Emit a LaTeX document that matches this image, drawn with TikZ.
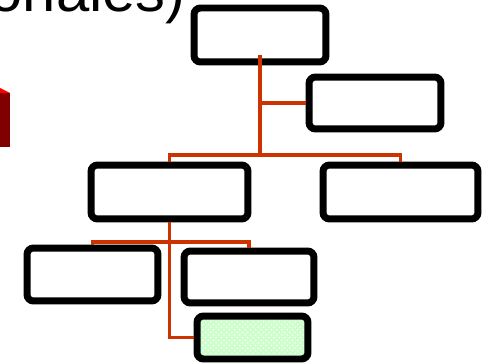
\documentclass[tikz,border=0pt]{standalone}
\usepackage{fontspec}
\setmainfont{Liberation Sans}
\usetikzlibrary{positioning,patterns}

\definecolor{linkred}{RGB}{204,51,0}
\definecolor{cellgreen}{RGB}{204,255,204}
\definecolor{cubedark}{RGB}{128,0,0}
\definecolor{cubelight}{RGB}{255,0,0}

\begin{document}
\begin{tikzpicture}[x=0.02cm,y=-0.02cm,
  orgbox/.style={rectangle, draw, line width=0.14cm, rounded corners=0.13cm, fill=white},
  link/.style={draw=linkred, line width=0.062cm}]
\useasboundingbox (0,0) rectangle (482,364);

\fill[cubedark] (0,93) rectangle (10,147);
\fill[cubelight] (0,88) -- (10,93) -- (0,93) -- cycle;

\node[anchor=base east, inner sep=0pt, font=\fontsize{34}{40}\selectfont](title) at (186,12){onales)};

\node[orgbox, minimum width=2.64cm, minimum height=1.08cm](boss) at (260,35){};
\node[orgbox, minimum width=2.64cm, minimum height=1.04cm](assist) at (375,103){};
\node[orgbox, minimum width=3.14cm, minimum height=1.08cm](deptL) at (169.5,192){};
\node[orgbox, minimum width=3.10cm, minimum height=1.08cm](deptR) at (400.5,192){};
\node[orgbox, minimum width=2.62cm, minimum height=1.06cm](secL) at (92.5,274.5){};
\node[orgbox, minimum width=2.60cm, minimum height=1.04cm](secR) at (249,277){};
\node[orgbox, minimum width=2.22cm, minimum height=0.86cm, preaction={fill=cellgreen}, pattern=crosshatch dots, pattern color=white](cell) at (252.5,337.5){};

\coordinate (bus1) at (0,155);
\coordinate (bus2) at (0,242);

\draw[link] ([yshift=0.2cm]boss.south) -- (boss.south |- bus1);
\draw[link] (boss.south |- assist.west) -- (assist.west);
\draw[link] (deptL.north) -- (deptL.north |- bus1) -- (deptR.north |- bus1) -- (deptR.north);
\draw[link] (deptL.south) |- (cell.west);
\draw[link] (secL.north) -- (secL.north |- bus2) -- (secR.north |- bus2) -- (secR.north);

\end{tikzpicture}
\end{document}
